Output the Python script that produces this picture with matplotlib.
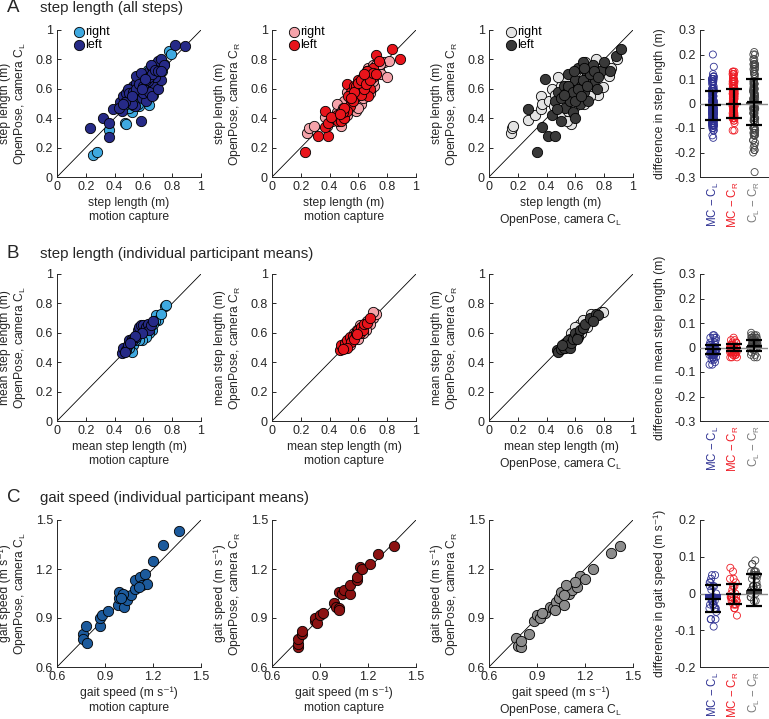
import numpy as np
import matplotlib
matplotlib.use('Agg')
import matplotlib.pyplot as plt

plt.rcParams['font.family'] = ['Liberation Sans', 'DejaVu Sans']
plt.rcParams['mathtext.fontset'] = 'custom'
plt.rcParams['mathtext.rm'] = 'Liberation Sans'
plt.rcParams['mathtext.it'] = 'Liberation Sans:italic'
plt.rcParams['axes.unicode_minus'] = False

# ---- row A: every step (x, y) ----
a1_right_x = [0.25, 0.28, 0.36, 0.47, 0.48, 0.52, 0.50, 0.53, 0.55, 0.57, 0.59, 0.60, 0.62, 0.63, 0.64, 0.65, 0.66,
              0.67, 0.68, 0.69, 0.70, 0.72, 0.71, 0.68, 0.66, 0.64, 0.62, 0.58, 0.56, 0.54, 0.60, 0.62, 0.67, 0.70,
              0.73, 0.78, 0.79, 0.50, 0.48, 0.46, 0.52, 0.55, 0.58, 0.60, 0.63, 0.69, 0.65, 0.57, 0.61, 0.74, 0.64,
              0.55, 0.58, 0.60, 0.63, 0.65, 0.67, 0.69, 0.70, 0.66, 0.62, 0.59, 0.53, 0.71, 0.64, 0.56]
a1_right_y = [0.15, 0.17, 0.32, 0.37, 0.36, 0.44, 0.47, 0.49, 0.50, 0.52, 0.58, 0.60, 0.62, 0.58, 0.66, 0.70, 0.72,
              0.68, 0.74, 0.76, 0.78, 0.75, 0.70, 0.64, 0.60, 0.55, 0.66, 0.62, 0.56, 0.53, 0.52, 0.68, 0.56, 0.66,
              0.72, 0.86, 0.84, 0.52, 0.50, 0.48, 0.58, 0.60, 0.64, 0.70, 0.73, 0.62, 0.63, 0.48, 0.56, 0.77, 0.49,
              0.53, 0.57, 0.64, 0.60, 0.67, 0.71, 0.69, 0.73, 0.64, 0.59, 0.61, 0.56, 0.75, 0.69, 0.50]
a1_left_x = [0.23, 0.32, 0.36, 0.36, 0.39, 0.44, 0.45, 0.46, 0.48, 0.50, 0.51, 0.53, 0.55, 0.56, 0.58, 0.58, 0.60,
             0.61, 0.62, 0.63, 0.64, 0.65, 0.66, 0.67, 0.68, 0.69, 0.70, 0.71, 0.72, 0.74, 0.82, 0.89, 0.54, 0.52,
             0.57, 0.59, 0.62, 0.60, 0.64, 0.66, 0.70, 0.72, 0.49, 0.47, 0.43, 0.55, 0.58, 0.65, 0.68, 0.63,
             0.50, 0.53, 0.55, 0.57, 0.60, 0.62, 0.64, 0.66, 0.68, 0.70, 0.46, 0.52, 0.59, 0.72, 0.61]
a1_left_y = [0.33, 0.40, 0.37, 0.27, 0.46, 0.51, 0.45, 0.55, 0.57, 0.53, 0.60, 0.62, 0.64, 0.58, 0.38, 0.66, 0.68,
             0.63, 0.70, 0.60, 0.72, 0.66, 0.75, 0.70, 0.62, 0.73, 0.79, 0.69, 0.80, 0.76, 0.90, 0.89, 0.48, 0.50,
             0.56, 0.54, 0.52, 0.57, 0.58, 0.55, 0.60, 0.66, 0.60, 0.51, 0.47, 0.69, 0.71, 0.76, 0.68, 0.65,
             0.57, 0.58, 0.60, 0.63, 0.62, 0.66, 0.68, 0.70, 0.73, 0.72, 0.50, 0.55, 0.60, 0.72, 0.67]

a2_right_x = [0.24, 0.26, 0.29, 0.37, 0.38, 0.42, 0.45, 0.47, 0.48, 0.50, 0.52, 0.53, 0.55, 0.55, 0.57, 0.58, 0.60,
              0.60, 0.62, 0.62, 0.63, 0.64, 0.65, 0.66, 0.67, 0.68, 0.69, 0.70, 0.70, 0.71, 0.72, 0.74, 0.76, 0.78,
              0.80, 0.81, 0.50, 0.52, 0.57, 0.60, 0.65, 0.68, 0.45, 0.49, 0.44, 0.63,
              0.55, 0.58, 0.60, 0.63, 0.65, 0.67, 0.70, 0.72, 0.57, 0.61, 0.66, 0.53, 0.48, 0.75]
a2_right_y = [0.30, 0.33, 0.35, 0.41, 0.35, 0.38, 0.44, 0.42, 0.35, 0.40, 0.42, 0.50, 0.46, 0.55, 0.50, 0.45, 0.55,
              0.60, 0.62, 0.50, 0.66, 0.58, 0.70, 0.64, 0.74, 0.68, 0.60, 0.76, 0.71, 0.62, 0.70, 0.74, 0.70, 0.78,
              0.68, 0.79, 0.52, 0.58, 0.60, 0.47, 0.61, 0.57, 0.50, 0.47, 0.41, 0.54,
              0.52, 0.58, 0.63, 0.60, 0.66, 0.70, 0.65, 0.76, 0.55, 0.57, 0.72, 0.46, 0.44, 0.77]
a2_left_x = [0.23, 0.32, 0.39, 0.37, 0.37, 0.39, 0.43, 0.45, 0.46, 0.48, 0.50, 0.52, 0.55, 0.57, 0.60, 0.62, 0.64,
             0.65, 0.67, 0.68, 0.67, 0.72, 0.83, 0.89, 0.58, 0.54, 0.52, 0.60, 0.63, 0.66, 0.70, 0.62, 0.56, 0.58,
             0.64, 0.70, 0.74, 0.49, 0.41, 0.53,
             0.57, 0.60, 0.62, 0.65, 0.68, 0.66, 0.70, 0.55, 0.50, 0.47, 0.72, 0.64]
a2_left_y = [0.17, 0.28, 0.28, 0.45, 0.34, 0.37, 0.40, 0.42, 0.38, 0.38, 0.40, 0.63, 0.58, 0.62, 0.60, 0.63, 0.65,
             0.70, 0.72, 0.60, 0.55, 0.83, 0.87, 0.80, 0.55, 0.48, 0.45, 0.66, 0.68, 0.67, 0.68, 0.56, 0.52, 0.62,
             0.60, 0.74, 0.79, 0.44, 0.41, 0.55,
             0.58, 0.64, 0.66, 0.63, 0.66, 0.72, 0.71, 0.54, 0.47, 0.43, 0.70, 0.70]

a3_right_x = [0.15, 0.16, 0.17, 0.27, 0.32, 0.36, 0.36, 0.37, 0.44, 0.42, 0.46, 0.48, 0.50, 0.52, 0.53, 0.55, 0.56,
              0.57, 0.58, 0.60, 0.62, 0.63, 0.64, 0.66, 0.67, 0.68, 0.70, 0.72, 0.74, 0.76, 0.79, 0.83, 0.85, 0.89,
              0.48, 0.45, 0.50, 0.54, 0.60, 0.58, 0.65, 0.70, 0.62, 0.55,
              0.55, 0.60, 0.64, 0.66, 0.68, 0.70, 0.72, 0.58, 0.52, 0.62, 0.75, 0.50]
a3_right_y = [0.30, 0.33, 0.35, 0.39, 0.42, 0.46, 0.55, 0.50, 0.60, 0.52, 0.56, 0.45, 0.62, 0.50, 0.66, 0.58, 0.40,
              0.36, 0.70, 0.62, 0.55, 0.74, 0.66, 0.50, 0.78, 0.60, 0.72, 0.64, 0.80, 0.56, 0.61, 0.69, 0.74, 0.80,
              0.68, 0.48, 0.43, 0.38, 0.48, 0.53, 0.72, 0.55, 0.68, 0.45,
              0.62, 0.56, 0.60, 0.68, 0.70, 0.66, 0.74, 0.60, 0.56, 0.64, 0.72, 0.52]
a3_left_x = [0.27, 0.33, 0.37, 0.41, 0.46, 0.39, 0.44, 0.46, 0.48, 0.50, 0.52, 0.53, 0.55, 0.56, 0.57, 0.58, 0.60,
             0.61, 0.62, 0.63, 0.64, 0.65, 0.66, 0.68, 0.69, 0.70, 0.72, 0.73, 0.75, 0.78, 0.80, 0.84, 0.88, 0.92,
             0.50, 0.54, 0.59, 0.67, 0.60, 0.47,
             0.55, 0.58, 0.62, 0.65, 0.68, 0.70, 0.73, 0.60, 0.52, 0.66, 0.76, 0.64]
a3_left_y = [0.46, 0.17, 0.34, 0.28, 0.28, 0.67, 0.42, 0.52, 0.58, 0.54, 0.62, 0.47, 0.70, 0.52, 0.60, 0.44, 0.66,
             0.56, 0.74, 0.50, 0.62, 0.78, 0.58, 0.70, 0.52, 0.64, 0.76, 0.65, 0.60, 0.72, 0.78, 0.72, 0.82, 0.87,
             0.38, 0.58, 0.72, 0.66, 0.40, 0.46,
             0.62, 0.58, 0.60, 0.66, 0.62, 0.70, 0.72, 0.52, 0.56, 0.74, 0.68, 0.55]

# ---- row B: participant mean step length ----
b1_right_x = [0.75, 0.76, 0.69, 0.70, 0.68, 0.65, 0.66, 0.63, 0.64, 0.60, 0.58, 0.56, 0.55, 0.53, 0.52, 0.50, 0.61,
              0.62, 0.59, 0.57, 0.67, 0.72, 0.54, 0.60]
b1_right_y = [0.78, 0.79, 0.72, 0.69, 0.68, 0.64, 0.62, 0.63, 0.60, 0.60, 0.60, 0.57, 0.58, 0.52, 0.47, 0.50, 0.58,
              0.57, 0.55, 0.55, 0.66, 0.73, 0.55, 0.62]
b1_left_x = [0.45, 0.46, 0.48, 0.49, 0.50, 0.52, 0.53, 0.55, 0.56, 0.57, 0.58, 0.60, 0.61, 0.62, 0.63, 0.64, 0.65,
             0.67, 0.59, 0.54, 0.47, 0.51]
b1_left_y = [0.46, 0.50, 0.48, 0.52, 0.55, 0.56, 0.55, 0.57, 0.62, 0.64, 0.65, 0.65, 0.62, 0.64, 0.66, 0.62, 0.65,
             0.68, 0.60, 0.58, 0.47, 0.53]

b2_right_x = [0.50, 0.55, 0.60, 0.62, 0.66, 0.70, 0.72, 0.68, 0.64, 0.58, 0.53, 0.49, 0.57, 0.61, 0.65, 0.70, 0.54,
              0.60, 0.63, 0.59]
b2_right_y = [0.50, 0.55, 0.60, 0.62, 0.68, 0.70, 0.73, 0.66, 0.64, 0.58, 0.55, 0.50, 0.60, 0.65, 0.62, 0.74, 0.52,
              0.56, 0.60, 0.62]
b2_left_x = [0.47, 0.48, 0.50, 0.51, 0.52, 0.54, 0.55, 0.56, 0.57, 0.58, 0.60, 0.61, 0.62, 0.63, 0.64, 0.66, 0.68,
             0.52, 0.49, 0.59]
b2_left_y = [0.48, 0.52, 0.50, 0.53, 0.55, 0.57, 0.54, 0.58, 0.56, 0.60, 0.62, 0.60, 0.64, 0.62, 0.66, 0.67, 0.70,
             0.50, 0.49, 0.59]

b3_right_x = [0.50, 0.55, 0.58, 0.60, 0.62, 0.64, 0.66, 0.70, 0.72, 0.75, 0.78, 0.79, 0.68, 0.63, 0.57, 0.53, 0.60,
              0.65, 0.71, 0.56]
b3_right_y = [0.50, 0.52, 0.55, 0.58, 0.62, 0.60, 0.65, 0.68, 0.70, 0.73, 0.74, 0.74, 0.64, 0.66, 0.60, 0.50, 0.64,
              0.69, 0.73, 0.56]
b3_left_x = [0.47, 0.48, 0.50, 0.52, 0.53, 0.55, 0.56, 0.57, 0.58, 0.60, 0.62, 0.63, 0.65, 0.67, 0.70, 0.74, 0.76,
             0.72, 0.51, 0.61]
b3_left_y = [0.48, 0.47, 0.49, 0.50, 0.53, 0.55, 0.50, 0.53, 0.56, 0.60, 0.57, 0.62, 0.63, 0.66, 0.70, 0.73, 0.72,
             0.68, 0.52, 0.56]

# ---- row C: participant mean gait speed ----
c1_x = [0.76, 0.76, 0.79, 0.78, 0.87, 0.87, 0.88, 0.92, 0.98, 0.99, 0.99, 1.02, 1.02, 1.04, 1.06, 1.09, 1.09,
        1.12, 1.13, 1.15, 1.16, 1.20, 1.26, 1.36, 1.01, 1.00, 1.11]
c1_y = [0.80, 0.77, 0.75, 0.85, 0.85, 0.90, 0.92, 0.94, 0.98, 1.02, 1.06, 0.97, 1.04, 1.01, 1.04, 1.08, 1.13,
        1.15, 1.10, 1.17, 1.11, 1.25, 1.35, 1.43, 1.05, 1.02, 1.09]
c2_x = [0.76, 0.76, 0.76, 0.79, 0.79, 0.87, 0.87, 0.88, 0.90, 0.92, 0.99, 1.00, 1.02, 1.02, 1.02, 1.04, 1.05,
        1.09, 1.09, 1.13, 1.13, 1.15, 1.16, 1.21, 1.26, 1.36]
c2_y = [0.72, 0.74, 0.77, 0.80, 0.82, 0.88, 0.90, 0.87, 0.92, 0.93, 0.99, 0.97, 0.96, 0.95, 1.06, 1.05, 1.07,
        1.05, 1.10, 1.13, 1.15, 1.21, 1.20, 1.23, 1.29, 1.34]
c3_x = [0.77, 0.78, 0.80, 0.80, 0.85, 0.88, 0.90, 0.92, 0.95, 0.98, 1.00, 1.02, 1.04, 1.05, 1.07, 1.10, 1.12,
        1.15, 1.17, 1.20, 1.14, 1.25, 1.36, 1.42, 1.07, 1.08, 1.01, 0.93]
c3_y = [0.78, 0.73, 0.72, 0.76, 0.80, 0.88, 0.92, 0.90, 0.93, 0.97, 0.96, 1.00, 1.02, 1.06, 0.98, 1.05, 1.07,
        1.09, 1.16, 1.14, 1.12, 1.20, 1.30, 1.34, 1.04, 1.10, 0.95, 0.93]

# mean and SD of the differences
diff_mean_a = [-0.008, 0.0, 0.007]
diff_sd_a = [0.060, 0.060, 0.095]
diff_mean_b = [-0.008, 0.0, 0.008]
diff_sd_b = [0.020, 0.016, 0.024]
diff_mean_c = [-0.014, -0.001, 0.010]
diff_sd_c = [0.036, 0.028, 0.044]

diff_names = ['MC \u2212 C$_\\mathregular{L}$', 'MC \u2212 C$_\\mathregular{R}$',
              'C$_\\mathregular{L}$ \u2212 C$_\\mathregular{R}$']
diff_cols = ['#2e3192', '#ee1c25', '#454545']
diff_text_cols = ['#2e3192', '#ee1c25', '#7a7a7a']

blue_r, blue_l = '#3fa9e0', '#262a87'
red_r, red_l = '#f5a3aa', '#e8141b'
gray_r, gray_l = '#e4e4e4', '#393939'

axcol = '#262626'
FS = 8.7
W, H = 769, 719
fig = plt.figure(figsize=(W / 100, H / 100), dpi=100)


def add_ax(left, top, width=144, height=147):
    ax = fig.add_axes([left / W, 1 - (top + height) / H, width / W, height / H])
    for s in ['top', 'right']:
        ax.spines[s].set_visible(False)
    for s in ['left', 'bottom']:
        ax.spines[s].set_color(axcol)
        ax.spines[s].set_linewidth(0.7)
    ax.tick_params(direction='in', length=3, width=0.7, colors=axcol, labelsize=FS + 0.3, pad=3)
    return ax


def fmt(v):
    return ('%.1f' % v).rstrip('0').rstrip('.') if abs(v) > 1e-9 else '0'


def scatter_panel(ax, lo, hi, ticks, series, xlab, ylab, legend=False):
    ax.plot([lo, hi], [lo, hi], color='k', lw=0.6, zorder=1)
    for x, y, c, lab in series:
        ax.scatter(x, y, s=55, c=c, edgecolors='k', linewidths=0.6, zorder=2, label=lab)
    ax.set_xlim(lo, hi)
    ax.set_ylim(lo, hi)
    ax.set_xticks(ticks)
    ax.set_yticks(ticks)
    ax.set_xticklabels([fmt(t) for t in ticks])
    ax.set_yticklabels([fmt(t) for t in ticks])
    ax.set_xlabel(xlab, fontsize=FS, linespacing=1.25, color=axcol)
    ax.set_ylabel(ylab, fontsize=FS, linespacing=1.1, color=axcol)
    ax.xaxis.set_label_coords(0.5, -0.135)
    ax.yaxis.set_label_coords(-0.2, 0.5)
    if legend:
        ax.legend(loc='upper left', bbox_to_anchor=(0.05, 1.06), frameon=False, fontsize=FS + 0.3,
                  handletextpad=-0.2, labelspacing=0.05, borderaxespad=0, handlelength=1.5,
                  scatterpoints=1)


def diff_panel(ax, diffs, means, sds, lim, ticks, ylab, jit):
    ax.axhline(0, color='#8c8c8c', lw=1.0, zorder=3)
    for i, d in enumerate(diffs):
        d = np.asarray(d)
        off = ((np.arange(len(d)) * 0.618034) % 1 - 0.5) * 2 * jit
        ax.scatter(i + 1 + off, d, s=26, facecolors='none', edgecolors=diff_cols[i], linewidths=0.6, zorder=2)
    pos = np.arange(1, 4)
    ax.bar(pos, means, width=0.75, color=diff_cols, zorder=4)
    ax.errorbar(pos, means, yerr=sds, fmt='none', ecolor='k', elinewidth=1.6, capsize=5.5, capthick=1.6, zorder=5)
    ax.hlines(means, pos - 0.37, pos + 0.37, color='k', lw=1.6, zorder=5)
    ax.set_xlim(0.37, 3.67)
    ax.set_ylim(-lim, lim)
    ax.set_yticks(ticks)
    ax.set_yticklabels([fmt(t) for t in ticks])
    ax.set_xticks(pos)
    ax.set_xticklabels(diff_names, rotation=90, fontsize=8.3)
    ax.tick_params(axis='x', length=0, pad=3)
    for t, c in zip(ax.get_xticklabels(), diff_text_cols):
        t.set_color(c)
    ax.set_ylabel(ylab, fontsize=FS, color=axcol)
    ax.yaxis.set_label_coords(-0.50, 0.5)


lefts = [57, 272, 489]
tops = [30, 274, 520]
st = [0, 0.2, 0.4, 0.6, 0.8, 1]
gt = [0.6, 0.9, 1.2, 1.5]
cl = r'OpenPose, camera C$_\mathregular{L}$'
cr = r'OpenPose, camera C$_\mathregular{R}$'

# row A
ax = add_ax(lefts[0], tops[0])
scatter_panel(ax, 0, 1, st, [(a1_right_x, a1_right_y, blue_r, 'right'), (a1_left_x, a1_left_y, blue_l, 'left')],
              'step length (m)\nmotion capture', 'step length (m)\n' + cl, legend=True)
ax = add_ax(lefts[1], tops[0])
scatter_panel(ax, 0, 1, st, [(a2_right_x, a2_right_y, red_r, 'right'), (a2_left_x, a2_left_y, red_l, 'left')],
              'step length (m)\nmotion capture', 'step length (m)\n' + cr, legend=True)
ax = add_ax(lefts[2], tops[0])
scatter_panel(ax, 0, 1, st, [(a3_right_x, a3_right_y, gray_r, 'right'), (a3_left_x, a3_left_y, gray_l, 'left')],
              'step length (m)\n' + cl, 'step length (m)\n' + cr, legend=True)

# row B
ax = add_ax(lefts[0], tops[1])
scatter_panel(ax, 0, 1, st, [(b1_right_x, b1_right_y, blue_r, 'right'), (b1_left_x, b1_left_y, blue_l, 'left')],
              'mean step length (m)\nmotion capture', 'mean step length (m)\n' + cl)
ax = add_ax(lefts[1], tops[1])
scatter_panel(ax, 0, 1, st, [(b2_right_x, b2_right_y, red_r, 'right'), (b2_left_x, b2_left_y, red_l, 'left')],
              'mean step length (m)\nmotion capture', 'mean step length (m)\n' + cr)
ax = add_ax(lefts[2], tops[1])
scatter_panel(ax, 0, 1, st, [(b3_right_x, b3_right_y, gray_r, 'right'), (b3_left_x, b3_left_y, gray_l, 'left')],
              'mean step length (m)\n' + cl, 'mean step length (m)\n' + cr)

# row C
gs = 'gait speed (m s\u207b\u00b9)'
ax = add_ax(lefts[0], tops[2])
scatter_panel(ax, 0.6, 1.5, gt, [(c1_x, c1_y, '#1c5a9c', None)], gs + '\nmotion capture', gs + '\n' + cl)
ax = add_ax(lefts[1], tops[2])
scatter_panel(ax, 0.6, 1.5, gt, [(c2_x, c2_y, '#8b1212', None)], gs + '\nmotion capture', gs + '\n' + cr)
ax = add_ax(lefts[2], tops[2])
scatter_panel(ax, 0.6, 1.5, gt, [(c3_x, c3_y, '#8c8c8c', None)], gs + '\n' + cl, gs + '\n' + cr)


def xy_diff(px, py):
    return np.asarray(px) - np.asarray(py)


da = [xy_diff(a1_right_x + a1_left_x, a1_right_y + a1_left_y),
      xy_diff(a2_right_x + a2_left_x, a2_right_y + a2_left_y),
      xy_diff(a3_right_x + a3_left_x, a3_right_y + a3_left_y)]
db = [xy_diff(b1_right_x + b1_left_x, b1_right_y + b1_left_y),
      xy_diff(b2_right_x + b2_left_x, b2_right_y + b2_left_y),
      xy_diff(b3_right_x + b3_left_x, b3_right_y + b3_left_y)]
dc = [xy_diff(c1_x, c1_y), xy_diff(c2_x, c2_y), xy_diff(c3_x, c3_y)]

ax = add_ax(700, tops[0], width=68)
diff_panel(ax, da, diff_mean_a, diff_sd_a, 0.3, [-0.3, -0.2, -0.1, 0, 0.1, 0.2, 0.3],
           'difference in step length (m)', 0.05)
ax = add_ax(700, tops[1], width=68)
diff_panel(ax, db, diff_mean_b, diff_sd_b, 0.3, [-0.3, -0.2, -0.1, 0, 0.1, 0.2, 0.3],
           'difference in mean step length (m)', 0.17)
ax = add_ax(700, tops[2], width=68)
diff_panel(ax, dc, diff_mean_c, diff_sd_c, 0.2, [-0.2, -0.1, 0, 0.1, 0.2],
           'difference in gait speed (m s\u207b\u00b9)', 0.17)

# panel letters and titles
for letter, title, y in [('A', 'step length (all steps)', 8),
                         ('B', 'step length (individual participant means)', 254),
                         ('C', 'gait speed (individual participant means)', 498)]:
    fig.text(7 / W, 1 - y / H, letter, fontsize=13.5, va='center', ha='left', color=axcol)
    fig.text(40 / W, 1 - y / H, title, fontsize=10.8, va='center', ha='left', color=axcol)

fig.savefig('out.png', dpi=100)
